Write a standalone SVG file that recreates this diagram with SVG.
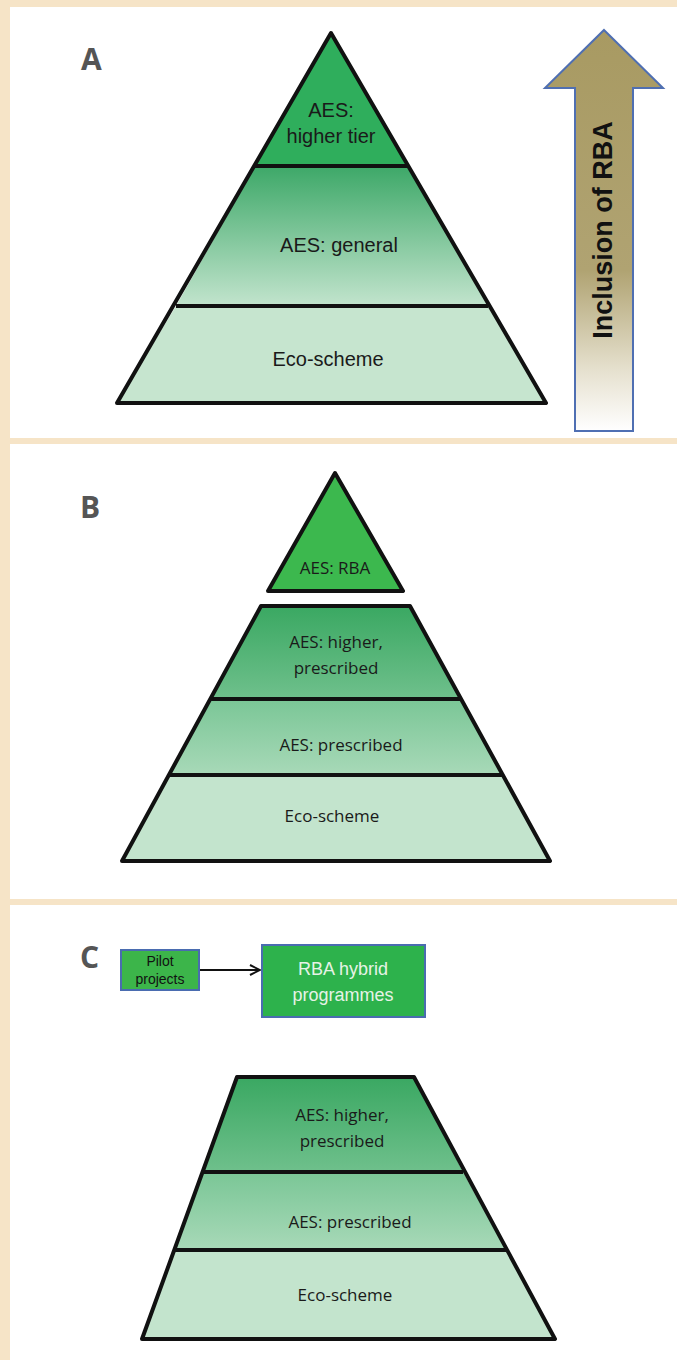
<svg xmlns="http://www.w3.org/2000/svg" width="677" height="1360" viewBox="0 0 677 1360">
<defs>
<style>
.edge{stroke:#111;stroke-width:4;stroke-linejoin:round}
.ta{font-family:"Liberation Sans",Arial,sans-serif;font-size:20px;fill:#1a1a1a;text-anchor:middle}
.tb{font-family:"Open Sans","Noto Sans",sans-serif;font-size:17px;fill:#1a1a1a;text-anchor:middle}
.lbl{font-family:"Open Sans","Noto Sans",sans-serif;font-size:30px;font-weight:bold;fill:#555}
.box{stroke:#4a6cb0;stroke-width:2}
</style>
<linearGradient id="gMidA" x1="0" y1="0" x2="0" y2="1">
<stop offset="0" stop-color="#3da868"/><stop offset="1" stop-color="#c2e4cd"/>
</linearGradient>
<linearGradient id="gHi" x1="0" y1="0" x2="0" y2="1">
<stop offset="0" stop-color="#3aa862"/><stop offset="1" stop-color="#6fc08c"/>
</linearGradient>
<linearGradient id="gPre" x1="0" y1="0" x2="0" y2="1">
<stop offset="0" stop-color="#7ac696"/><stop offset="1" stop-color="#a8d9b8"/>
</linearGradient>
<linearGradient id="gArrow" x1="0" y1="0" x2="0" y2="1">
<stop offset="0" stop-color="#a89a62"/><stop offset="0.6" stop-color="#b0a372"/><stop offset="0.85" stop-color="#e6e1cf"/><stop offset="1" stop-color="#ffffff"/>
</linearGradient>
<marker id="ah" viewBox="0 0 12 12" refX="11" refY="6" markerWidth="12" markerHeight="12" markerUnits="userSpaceOnUse" orient="auto">
<path d="M1,1 L11,6 L1,11" fill="none" stroke="#111" stroke-width="2"/>
</marker>
</defs>
<rect x="0" y="0" width="677" height="1360" fill="#f6e4c7"/>
<rect x="10" y="7" width="667" height="431" fill="#ffffff"/>
<rect x="10" y="444" width="667" height="455" fill="#ffffff"/>
<rect x="10" y="905" width="667" height="455" fill="#ffffff"/>

<g id="panelA">
<text class="lbl" x="81" y="70">A</text>
<g id="A-higher">
<polygon points="331,33 407,166 255,166" fill="#2fae5c"/>
<text class="ta" x="331" y="117">AES:</text>
<text class="ta" x="331" y="143">higher tier</text>
</g>
<g id="A-general">
<polygon points="255,166 407,166 488,306 176,306" fill="url(#gMidA)"/>
<text class="ta" x="339" y="252">AES: general</text>
</g>
<g id="A-eco">
<polygon points="176,306 488,306 546,403 117,403" fill="#c6e5cf"/>
<text class="ta" x="328" y="366">Eco-scheme</text>
</g>
<polygon points="331,33 546,403 117,403" fill="none" class="edge"/>
<line x1="255" y1="166" x2="407" y2="166" class="edge"/>
<line x1="176" y1="306" x2="488" y2="306" class="edge"/>
<g id="A-arrow">
<polygon points="604,30 663,88 633,88 633,431 575,431 575,88 545,88" fill="url(#gArrow)" stroke="#4f6fb2" stroke-width="2"/>
<text x="612" y="230" transform="rotate(-90 612 230)" text-anchor="middle" font-family="Liberation Sans,Arial,sans-serif" font-weight="bold" font-size="27" fill="#111">Inclusion of RBA</text>
</g>
</g>

<g id="panelB">
<text class="lbl" x="80" y="518">B</text>
<g id="B-rba">
<polygon points="335,473 403,591 268,591" fill="#3cb84e" class="edge"/>
<text class="tb" x="335" y="574">AES: RBA</text>
</g>
<g id="B-higher">
<polygon points="261,606 410,606 461,699 210,699" fill="url(#gHi)"/>
<text class="tb" x="336" y="648">AES: higher,</text>
<text class="tb" x="336" y="674">prescribed</text>
</g>
<g id="B-prescribed">
<polygon points="210,699 461,699 503,775 169,775" fill="url(#gPre)"/>
<text class="tb" x="341" y="751">AES: prescribed</text>
</g>
<g id="B-eco">
<polygon points="169,775 503,775 550,861 122,861" fill="#c3e4cd"/>
<text class="tb" x="332" y="822">Eco-scheme</text>
</g>
<polygon points="261,606 410,606 550,861 122,861" fill="none" class="edge"/>
<line x1="210" y1="699" x2="461" y2="699" class="edge"/>
<line x1="169" y1="775" x2="503" y2="775" class="edge"/>
</g>

<g id="panelC">
<text class="lbl" x="80" y="968">C</text>
<g id="C-pilot">
<rect x="121" y="950" width="78" height="40" fill="#3cb54a" class="box"/>
<text x="160" y="966" text-anchor="middle" font-family="Liberation Sans,Arial,sans-serif" font-size="14" fill="#111">Pilot</text>
<text x="160" y="984" text-anchor="middle" font-family="Liberation Sans,Arial,sans-serif" font-size="14" fill="#111">projects</text>
</g>
<g id="C-hybrid">
<rect x="262" y="945" width="163" height="72" fill="#2db24c" class="box"/>
<text x="343" y="975" text-anchor="middle" font-family="Liberation Sans,Arial,sans-serif" font-size="18" fill="#e6f2e6">RBA hybrid</text>
<text x="343" y="1001" text-anchor="middle" font-family="Liberation Sans,Arial,sans-serif" font-size="18" fill="#e6f2e6">programmes</text>
</g>
<g id="C-higher">
<polygon points="237,1077 414,1077 463,1172 203,1172" fill="url(#gHi)"/>
<text class="tb" x="342" y="1121">AES: higher,</text>
<text class="tb" x="342" y="1147">prescribed</text>
</g>
<g id="C-prescribed">
<polygon points="203,1172 463,1172 506,1250 175,1250" fill="url(#gPre)"/>
<text class="tb" x="350" y="1228">AES: prescribed</text>
</g>
<g id="C-eco">
<polygon points="175,1250 506,1250 555,1339 142,1339" fill="#c3e4cd"/>
<text class="tb" x="345" y="1301">Eco-scheme</text>
</g>
<polygon points="237,1077 414,1077 555,1339 142,1339" fill="none" class="edge"/>
<line x1="203" y1="1172" x2="463" y2="1172" class="edge"/>
<line x1="175" y1="1250" x2="506" y2="1250" class="edge"/>
</g>

<g id="connectors">
<line x1="200" y1="970" x2="260" y2="970" stroke="#111" stroke-width="2" marker-end="url(#ah)"/>
</g>
</svg>
